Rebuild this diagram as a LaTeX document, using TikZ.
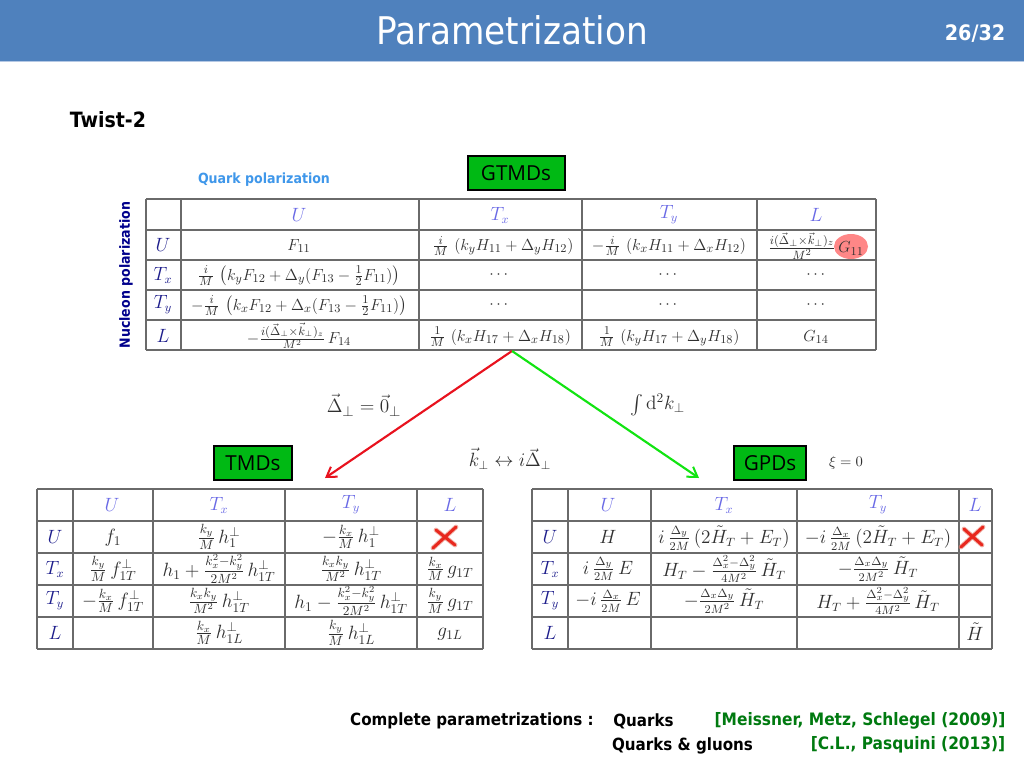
\documentclass[tikz,border=0pt]{standalone}
\usepackage{amsmath,amssymb}
\usepackage{fontspec}
\usetikzlibrary{arrows.meta}
\newfontfamily\slidefont{DejaVu Sans Condensed}
\newfontfamily\boxfont{Open Sans}
\definecolor{barblue}{HTML}{4F81BD}
\definecolor{barline}{HTML}{B4C8E4}
\definecolor{boxgreen}{HTML}{00B914}
\definecolor{headblue}{HTML}{6A6AE6}
\definecolor{rowblue}{HTML}{1E1E8C}
\definecolor{navylab}{HTML}{00008C}
\definecolor{skylab}{HTML}{3F97EA}
\definecolor{refgreen}{HTML}{007A10}
\definecolor{gridgray}{HTML}{6A6A6A}
\definecolor{mathgray}{HTML}{303030}
\definecolor{arrowred}{HTML}{E8121E}
\definecolor{arrowgreen}{HTML}{12E412}
\definecolor{crossred}{HTML}{E8281E}
\definecolor{crosssoft}{HTML}{E88070}
\tikzset{
  x=0.75pt,y=-0.75pt,
  gridline/.style={draw=gridgray,line width=0.8pt},
  cellm/.style={inner sep=0pt,text=mathgray,font=\fontsize{12.4}{14}\selectfont},
  cellbig/.style={inner sep=0pt,text=mathgray,font=\fontsize{14}{16}\selectfont},
  cellgpd/.style={inner sep=0pt,text=mathgray,font=\fontsize{13.3}{16}\selectfont},
  headm/.style={inner sep=0pt,text=headblue,font=\fontsize{13.5}{15}\selectfont},
  rowm/.style={inner sep=0pt,text=rowblue,font=\fontsize{13.5}{15}\selectfont},
  tagbox/.style={draw=black,fill=boxgreen,line width=1.5pt,inner sep=0pt,font=\boxfont\fontsize{15.5}{18}\selectfont,text=black},
  boldlab/.style={inner sep=0pt,font=\slidefont\bfseries\fontsize{10.5}{12}\selectfont},
  footlab/.style={inner sep=0pt,font=\slidefont\bfseries\fontsize{12.6}{15}\selectfont},
  reflab/.style={inner sep=0pt,text=refgreen,font=\slidefont\bfseries\fontsize{12.85}{15}\selectfont},
  bigarrow/.style={line width=1.6pt,-{Straight Barb[length=7pt,width=9pt,line width=1.5pt]}},
  formula/.style={inner sep=0pt,text=mathgray},
  brushsoft/.style={draw=crosssoft,line width=3.6pt,line cap=round,opacity=0.6},
  brushhard/.style={draw=crossred,line width=2.2pt,line cap=round}
}
\newcommand{\crossmark}[8]{%
  \draw[brushsoft] (#1,#2) -- (#3,#4);
  \draw[brushsoft] (#5,#6) -- (#7,#8);
  \draw[brushhard] (#1,#2) -- (#3,#4);
  \draw[brushhard] (#5,#6) -- (#7,#8);}
\begin{document}
\begin{tikzpicture}
\useasboundingbox (0,0) rectangle (1024,768);
\fill[white] (0,0) rectangle (1024,768);
\fill[barblue] (0,0) rectangle (1024,61);
\fill[barline] (0,61) rectangle (1024,62);
\node[inner sep=0pt,text=white,font=\slidefont\fontsize{28.6}{32}\selectfont] (title) at (512,30) {Parametrization};
\node[inner sep=0pt,text=white,font=\slidefont\bfseries\fontsize{16}{18}\selectfont] (page) at (975,34) {26/32};
\node[boldlab,font=\slidefont\bfseries\fontsize{15.8}{18}\selectfont] (twist) at (108,120) {Twist-2};
\node[boldlab,text=skylab] (qpol) at (264,180) {Quark polarization};
\node[boldlab,text=navylab,rotate=90] (npol) at (126,275) {Nucleon polarization};
% tag boxes
\node[tagbox,minimum width=97pt*0.75,minimum height=34pt*0.75] (gtmd) at (516,173) {GTMDs};
\node[tagbox,minimum width=78pt*0.75,minimum height=34pt*0.75] (tmd) at (253,463) {TMDs};
\node[tagbox,minimum width=72pt*0.75,minimum height=34pt*0.75] (gpd) at (770,463) {GPDs};
% GTMD grid
\foreach \xx in {146,181,419,582,757,876} \draw[gridline] (\xx,199) -- (\xx,350);
\foreach \yy in {199,230,260,290,320,350} \draw[gridline] (146,\yy) -- (876,\yy);
% TMD grid
\foreach \xx in {37,73,153,285,417,483} \draw[gridline] (\xx,489) -- (\xx,649);
\foreach \yy in {489,521,553,585,617,649} \draw[gridline] (37,\yy) -- (483,\yy);
% GPD grid
\foreach \xx in {532,568,651,797,959,992} \draw[gridline] (\xx,489) -- (\xx,649);
\foreach \yy in {489,521,553,585,617,649} \draw[gridline] (532,\yy) -- (992,\yy);
% GTMD cells
\node[headm] (ga1) at (299,215) {$U$};
\node[headm] (ga2) at (500,215) {$T_x$};
\node[headm] (ga3) at (669,215) {$T_y$};
\node[headm] (ga4) at (816,215) {$L$};
\node[rowm] (gu) at (163,245) {$U$};
\node[rowm] (gx) at (163,275) {$T_x$};
\node[rowm] (gy) at (163,305) {$T_y$};
\node[rowm] (gl) at (163,336) {$L$};
\node[cellm] (g11) at (299,246) {$F_{11}$};
\node[cellm] (g12) at (503,246) {$\frac{i}{M}\,\left(k_yH_{11}+\Delta_yH_{12}\right)$};
\node[cellm] (g13) at (669,246) {$-\frac{i}{M}\,\left(k_xH_{11}+\Delta_xH_{12}\right)$};
\fill[red!85!white,opacity=0.55] (851,246.5) ellipse (17 and 12.5);
\node[cellm,font=\fontsize{13.2}{15}\selectfont] (g14) at (816,246) {$\frac{i(\vec\Delta_\perp\times\vec k_\perp)_z}{M^2}\,G_{11}$};
\node[cellm] (g21) at (299,276) {$\frac{i}{M}\,\left(k_yF_{12}+\Delta_y(F_{13}-\frac12F_{11})\right)$};
\node[cellm] (g22) at (500,275) {$\cdots$};
\node[cellm] (g23) at (669,275) {$\cdots$};
\node[cellm] (g24) at (817,275) {$\cdots$};
\node[cellm] (g31) at (299,306) {$-\frac{i}{M}\,\left(k_xF_{12}+\Delta_x(F_{13}-\frac12F_{11})\right)$};
\node[cellm] (g32) at (500,305) {$\cdots$};
\node[cellm] (g33) at (669,305) {$\cdots$};
\node[cellm] (g34) at (817,305) {$\cdots$};
\node[cellm] (g41) at (299,336) {$-\frac{i(\vec\Delta_\perp\times\vec k_\perp)_z}{M^2}\,F_{14}$};
\node[cellm] (g42) at (500,337) {$\frac{1}{M}\,\left(k_xH_{17}+\Delta_xH_{18}\right)$};
\node[cellm] (g43) at (669,337) {$\frac{1}{M}\,\left(k_yH_{17}+\Delta_yH_{18}\right)$};
\node[cellm] (g44) at (816,337) {$G_{14}$};
% TMD cells
\node[headm] (ta1) at (112,505) {$U$};
\node[headm] (ta2) at (219,505) {$T_x$};
\node[headm] (ta3) at (351,505) {$T_y$};
\node[headm] (ta4) at (450,505) {$L$};
\node[rowm] (tu) at (55,537) {$U$};
\node[rowm] (tx) at (55,569) {$T_x$};
\node[rowm] (ty) at (55,601) {$T_y$};
\node[rowm] (tl) at (55,633) {$L$};
\node[cellbig] (t11) at (113,538) {$f_1$};
\node[cellbig] (t12) at (219,537) {$\frac{k_y}{M}\,h_1^\perp$};
\node[cellbig] (t13) at (351,537) {$-\frac{k_x}{M}\,h_1^\perp$};
\crossmark{433}{548}{456}{527}{436}{530}{455}{545}
\node[cellbig] (t21) at (113,569) {$\frac{k_y}{M}\,f_{1T}^\perp$};
\node[cellbig] (t22) at (219,569) {$h_1+\frac{k_x^2-k_y^2}{2M^2}\,h_{1T}^\perp$};
\node[cellbig] (t23) at (351,569) {$\frac{k_xk_y}{M^2}\,h_{1T}^\perp$};
\node[cellbig] (t24) at (450,569) {$\frac{k_x}{M}\,g_{1T}$};
\node[cellbig] (t31) at (113,601) {$-\frac{k_x}{M}\,f_{1T}^\perp$};
\node[cellbig] (t32) at (219,601) {$\frac{k_xk_y}{M^2}\,h_{1T}^\perp$};
\node[cellbig] (t33) at (351,601) {$h_1-\frac{k_x^2-k_y^2}{2M^2}\,h_{1T}^\perp$};
\node[cellbig] (t34) at (450,601) {$\frac{k_y}{M}\,g_{1T}$};
\node[cellbig] (t42) at (219,633) {$\frac{k_x}{M}\,h_{1L}^\perp$};
\node[cellbig] (t43) at (351,633) {$\frac{k_y}{M}\,h_{1L}^\perp$};
\node[cellbig] (t44) at (450,634) {$g_{1L}$};
% GPD cells
\node[headm] (pa1) at (608,505) {$U$};
\node[headm] (pa2) at (724,505) {$T_x$};
\node[headm] (pa3) at (878,505) {$T_y$};
\node[headm] (pa4) at (975,505) {$L$};
\node[rowm] (pu) at (550,537) {$U$};
\node[rowm] (px) at (550,569) {$T_x$};
\node[rowm] (py) at (550,601) {$T_y$};
\node[rowm] (pl) at (550,633) {$L$};
\node[cellgpd] (p11) at (608,537) {$H$};
\node[cellgpd] (p12) at (724,538) {$i\,\frac{\Delta_y}{2M}\,(2\tilde H_T+E_T)$};
\node[cellgpd] (p13) at (878,538) {$-i\,\frac{\Delta_x}{2M}\,(2\tilde H_T+E_T)$};
\crossmark{961}{547}{983}{527}{964}{529}{982}{545}
\node[cellgpd] (p21) at (608,569) {$i\,\frac{\Delta_y}{2M}\,E$};
\node[cellgpd] (p22) at (724,569) {$H_T-\frac{\Delta_x^2-\Delta_y^2}{4M^2}\,\tilde H_T$};
\node[cellgpd] (p23) at (878,569) {$-\frac{\Delta_x\Delta_y}{2M^2}\,\tilde H_T$};
\node[cellgpd] (p31) at (608,601) {$-i\,\frac{\Delta_x}{2M}\,E$};
\node[cellgpd] (p32) at (724,601) {$-\frac{\Delta_x\Delta_y}{2M^2}\,\tilde H_T$};
\node[cellgpd] (p33) at (878,601) {$H_T+\frac{\Delta_x^2-\Delta_y^2}{4M^2}\,\tilde H_T$};
\node[cellgpd] (p44) at (975,632) {$\tilde H$};
% arrows
\coordinate (apex) at (512,351);
\coordinate (redend) at (325,478);
\coordinate (greenend) at (699,478);
\draw[bigarrow,arrowred] (apex) -- (redend);
\draw[bigarrow,arrowgreen] (apex) -- (greenend);
% formulas
\node[formula,font=\fontsize{15.8}{18}\selectfont] (f1) at (364,405) {$\vec\Delta_\perp=\vec 0_\perp$};
\node[formula,font=\fontsize{14.5}{17}\selectfont] (f2) at (657.5,405) {$\int\mathrm d^2k_\perp$};
\node[formula,font=\fontsize{13.4}{16}\selectfont] (f3) at (510,459) {$\vec k_\perp\leftrightarrow i\vec\Delta_\perp$};
\node[formula,font=\fontsize{11}{13}\selectfont] (f4) at (846,463) {$\xi=0$};
% bottom text
\node[footlab] (c1) at (472,721) {Complete parametrizations :};
\node[footlab] (c2) at (643.5,721) {Quarks};
\node[reflab] (c3) at (860,721) {[Meissner, Metz, Schlegel (2009)]};
\node[footlab] (c4) at (682.5,746) {Quarks \& gluons};
\node[reflab] (c5) at (908,745) {[C.L., Pasquini (2013)]};
\end{tikzpicture}
\end{document}
